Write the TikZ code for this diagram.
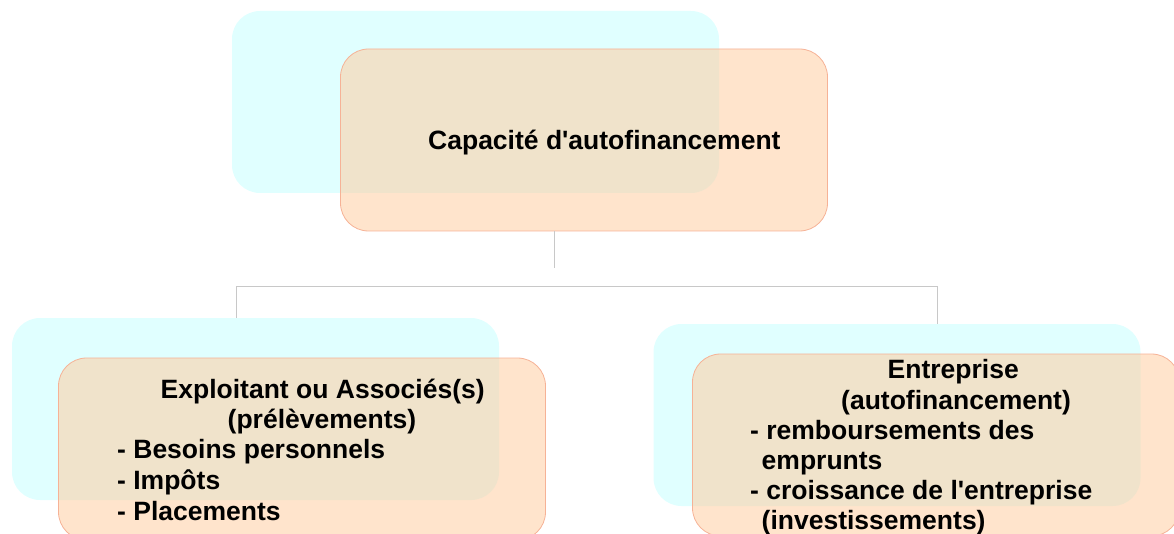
\documentclass[tikz,border=0pt]{standalone}
\usepackage{fontspec}
\newfontfamily\lab{Liberation Sans}
\definecolor{cyanfill}{RGB}{224,255,255}
\definecolor{orfill}{RGB}{255,203,157}
\definecolor{orline}{RGB}{246,178,150}
\definecolor{connc}{RGB}{200,200,200}
\tikzset{
  cyanbox/.style={rectangle, fill=cyanfill, rounded corners=28pt, minimum width=487pt, minimum height=182pt, inner sep=0pt},
  orbox/.style={rectangle, fill=orfill, fill opacity=0.52, draw=orline, line width=0.8pt, rounded corners=28pt, minimum width=487pt, minimum height=182pt, inner sep=0pt},
  conn/.style={draw=connc, line width=1pt},
  txt/.style={anchor=base west, inner sep=0pt, text=black, font=\lab\bfseries\fontsize{26.5}{30}\selectfont}
}
\begin{document}
\begin{tikzpicture}[x=1pt,y=-1pt]
\useasboundingbox (0,0) rectangle (1174,534);
% top
\node[cyanbox] (tc) at (475.5,102) {};
\node[orbox] (to) at (584,140) {};
% bottom left
\node[cyanbox] (lc) at (255.5,409) {};
\node[orbox] (lo) at (302,449) {};
% bottom right
\node[cyanbox] (rc) at (897,415) {};
\node[orbox] (ro) at (936,445) {};
% connectors
\coordinate (j1) at (554,268);
\coordinate (hl) at (236,287);
\coordinate (hr) at (937,287);
\draw[conn] (to.south -| j1) -- (j1);
\draw[conn] (lc.north -| hl) -- (hl) -- (hr) -- (rc.north -| hr);
% texts
\node[txt] (t0) at (428,150) {Capacité d'autofinancement};
\node[txt] (l1) at (160.5,398) {Exploitant ou Associés(s)};
\node[txt] (l2) at (227.5,428) {(prélèvements)};
\node[txt] (l3) at (117,458) {- Besoins personnels};
\node[txt] (l4) at (117,489) {- Impôts};
\node[txt] (l5) at (117,520) {- Placements};
\node[txt] (r1) at (887.5,378) {Entreprise};
\node[txt] (r2) at (841,409) {(autofinancement)};
\node[txt] (r3) at (750,439) {- remboursements des};
\node[txt] (r4) at (761.5,469) {emprunts};
\node[txt] (r5) at (750,499) {- croissance de l'entreprise};
\node[txt] (r6) at (761.5,529) {(investissements)};
\end{tikzpicture}
\end{document}
